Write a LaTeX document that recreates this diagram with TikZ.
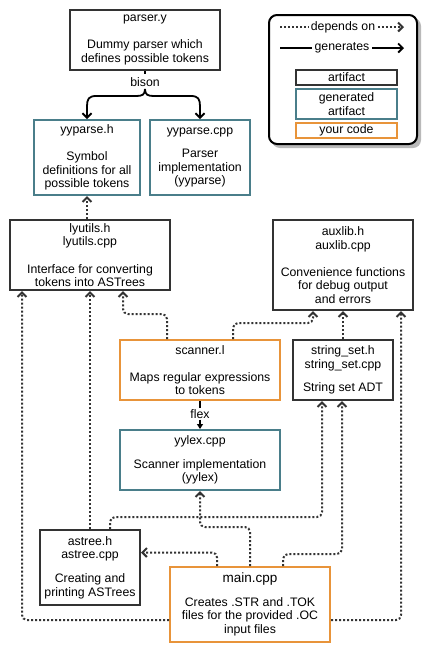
\documentclass[tikz,border=0pt]{standalone}
\usepackage{fontspec}
\setmainfont{Liberation Sans}
\usetikzlibrary{arrows.meta}
\definecolor{artc}{HTML}{333333}
\definecolor{genc}{HTML}{4A7E8A}
\definecolor{codec}{HTML}{E8943A}
\begin{document}
\begin{tikzpicture}[x=1pt,y=-1pt,
  txt/.style={font=\fontsize{12.3}{13.6}\selectfont, align=center, inner sep=1.5pt},
  box/.style={txt, draw, line width=2pt, fill=white, inner sep=0pt},
  art/.style={box, draw=artc},
  gen/.style={box, draw=genc},
  mine/.style={box, draw=codec},
  dline/.style={line width=2pt, dash pattern=on 2pt off 2pt, draw=artc, rounded corners=5pt},
  dep/.style={dline, -{Straight Barb[length=4.5pt,width=9pt]}},
  gline/.style={line width=1.8pt, draw=black},
  genarr/.style={gline, -{Straight Barb[length=4.5pt,width=9pt]}}
]
\useasboundingbox (0,0) rectangle (440,662);
\fill[white] (0,0) rectangle (440,662);

% legend
\fill[gray!55, rounded corners=8pt] (272,18) rectangle (421,148);
\draw[line width=2pt, fill=white, rounded corners=8pt] (269,15) rectangle (417,144);
\coordinate (d1) at (280,27);
\node[txt, inner sep=2.5pt] (dlab) at (343,27) {depends on};
\coordinate (d4) at (404,27);
\draw[dline] (d1) -- (dlab.west);
\draw[dep] (dlab.east) -- (d4);
\coordinate (g1) at (280,48);
\node[txt, inner sep=2.5pt] (glab) at (342,48) {generates};
\coordinate (g4) at (404,48);
\draw[gline] (g1) -- (glab.west);
\draw[genarr] (glab.east) -- (g4);
\node[art, minimum width=101, minimum height=15] (lart) at (346.5,77) {artifact};
\node[gen, minimum width=101, minimum height=30] (lgen) at (346.5,104) {generated\\artifact};
\node[mine, minimum width=101, minimum height=15] (lmine) at (346.5,130) {your code};

% boxes
\node[art, minimum width=150, minimum height=60] (parser) at (145,40)
  {parser.y\\[13.6pt]Dummy parser which\\defines possible tokens};
\node[gen, minimum width=106, minimum height=75] (yyparseh) at (87,157.5)
  {yyparse.h\\[13.6pt]Symbol\\definitions for all\\possible tokens};
\node[gen, minimum width=100, minimum height=75] (yyparsecpp) at (200,157.5)
  {yyparse.cpp\\[10pt]Parser\\implementation\\(yyparse)};
\node[art, minimum width=160, minimum height=70] (lyutils) at (90,255)
  {lyutils.h\\lyutils.cpp\\[13.6pt]Interface for converting\\tokens into ASTrees};
\node[art, minimum width=140, minimum height=90] (auxlib) at (343,265)
  {auxlib.h\\auxlib.cpp\\[13.6pt]Convenience functions\\for debug output\\and errors};
\node[mine, minimum width=160, minimum height=60] (scanner) at (200,370)
  {scanner.l\\[13.6pt]Maps regular expressions\\to tokens};
\node[art, minimum width=100, minimum height=60] (strset) at (343,370)
  {string\_set.h\\string\_set.cpp\\[10pt]String set ADT};
\node[gen, minimum width=160, minimum height=60] (yylex) at (200,460)
  {yylex.cpp\\[10pt]Scanner implementation\\(yylex)};
\node[art, minimum width=100, minimum height=75] (astree) at (90,567.5)
  {astree.h\\astree.cpp\\[10pt]Creating and\\printing ASTrees};
\node[mine, minimum width=160, minimum height=75] (main) at (250,604.5)
  {{\fontsize{13.5}{13.6}\selectfont main.cpp}\\[10pt]Creates .STR and .TOK\\files for the provided .OC\\input files};

% bison
\draw[gline] (parser.south) -- ++(0,3);
\node[txt] (bison) at (145,82) {bison};
\draw[genarr] (145,89) .. controls (145,95) and (142,96) .. (136,96) -- (96,96)
  .. controls (89,96) and (87,99) .. (87,106) -- (yyparseh.north);
\draw[genarr] (145,89) .. controls (145,95) and (148,96) .. (154,96) -- (191,96)
  .. controls (198,96) and (200,99) .. (200,106) -- (yyparsecpp.north);

% flex
\node[txt, fill=white, inner sep=1pt] (flex) at (200,414) {flex};
\draw[line width=1.4pt] (scanner.south) -- (flex.north);
\draw[line width=1.4pt, -{Triangle[length=5pt,width=6pt]}] (flex.south) -- (yylex.north);

% dependencies
\draw[dep] ([xshift=-3pt]lyutils.north) -- (yyparseh.south);
\draw[dep] ([xshift=-33pt]scanner.north) -- ++(0,-25) -| ([xshift=33pt]lyutils.south);
\draw[dep] ([xshift=33pt]scanner.north) -- ++(0,-16) -| ([xshift=-30pt]auxlib.south);
\draw[dep] (strset.north) -- (auxlib.south);
\draw[dep] ([yshift=-15.5pt]main.west) -| ([xshift=-68pt]lyutils.south);
\draw[dep] (astree.north) -- (lyutils.south);
\draw[dep] ([yshift=-15.5pt]main.east) -| ([xshift=58pt]auxlib.south);
\draw[dep] ([xshift=20pt]astree.north) -- ++(0,-12) -| ([xshift=-21pt]strset.south);
\draw[dep] ([xshift=33pt]main.north) -- ++(0,-12) -| ([xshift=-1pt]strset.south);
\draw[dep] (main.north) -- ++(0,-39) -| (yylex.south);
\draw[dep] ([xshift=-33pt]main.north) |- ([yshift=15pt]astree.east);
\end{tikzpicture}
\end{document}
